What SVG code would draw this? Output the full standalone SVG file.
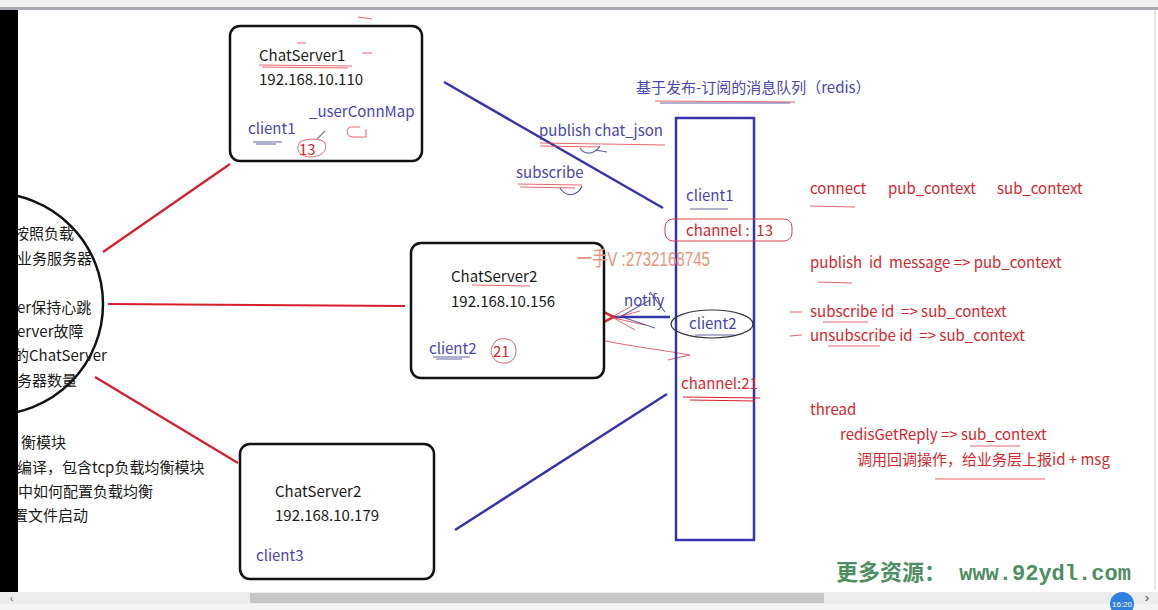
<svg xmlns="http://www.w3.org/2000/svg" width="1158" height="610" viewBox="0 0 1158 610">
<defs>
<style>
.t{font-family:"Noto Sans CJK SC","Noto Sans",sans-serif;font-size:15px;fill:#111;white-space:pre}
.k{fill:#1a1a1a}
.b{fill:#4646b4}
.r{fill:#d8262e}
.box{fill:#fff;stroke:#111;stroke-width:2.5}
.bl{stroke:#3434b0;stroke-width:2.5;fill:none}
.rl{stroke:#d81e2e;stroke-width:2.2;fill:none}
.hr{stroke:#e0404a;stroke-width:1;fill:none;opacity:.8}
.hb{stroke:#3a3a90;stroke-width:1.2;fill:none;opacity:.8}
.sm{font-family:"Liberation Sans",sans-serif}
</style>
<marker id="ah" viewBox="0 0 10 10" refX="1" refY="5" markerWidth="7" markerHeight="7" orient="auto">
<path d="M10 0 L0 5 L10 10" fill="none" stroke="#d8262e" stroke-width="1.5"/>
</marker>
</defs>
<rect width="1158" height="610" fill="#fff"/>
<!-- top toolbar -->
<rect x="0" y="0" width="1158" height="7" fill="#f0f0f0"/>
<rect x="0" y="7" width="1158" height="3" fill="#a8acb0"/>
<line x1="1155" y1="10" x2="1155" y2="590" stroke="#d0d0d0"/>

<!-- connectors -->
<g id="connectors">
<line class="rl" x1="103" y1="252" x2="230" y2="164"/>
<line class="rl" x1="108" y1="304" x2="405" y2="306"/>
<line class="rl" x1="95" y1="377" x2="238" y2="463"/>
<line class="bl" x1="444" y1="82" x2="663" y2="208"/>
<line class="bl" x1="455" y1="530" x2="667" y2="394"/>
<line stroke="#3434b0" stroke-width="2.5" x1="670" y1="317" x2="612" y2="317" marker-end="url(#ah)"/>
<path class="hr" d="M612 317 L632 306 M612 317 L635 330 M614 318 L640 311 M614 318 L645 325"/>
<path class="hb" d="M620 317 L650 300 M625 318 L655 328 M650 292 L665 312"/>
<path class="hr" d="M593 338 C620 345 650 348 690 355 L668 360"/>
</g>

<!-- left circle -->
<g id="lb">
<circle cx="-8" cy="304" r="111" fill="none" stroke="#111" stroke-width="2.5"/>
<text class="t k" x="14" y="239">按照负载</text>
<text class="t k" x="17" y="264">业务服务器</text>
<text class="t k" x="17" y="313">er保持心跳</text>
<text class="t k" x="17" y="337">erver故障</text>
<text class="t k" x="14" y="361">的ChatServer</text>
<text class="t k" x="17" y="386">务器数量</text>
<text class="t k" x="21" y="448">衡模块</text>
<text class="t k" x="17" y="473">编译，包含tcp负载均衡模块</text>
<text class="t k" x="18" y="497">中如何配置负载均衡</text>
<text class="t k" x="13" y="521">置文件启动</text>
</g>
<rect x="0" y="10" width="18" height="582" fill="#000"/>

<!-- ChatServer1 -->
<g id="cs1">
<rect class="box" x="230" y="26" width="192" height="135" rx="10"/>
<text class="t k" x="259" y="61" font-size="16">ChatServer1</text>
<text class="t k" x="259" y="85" font-size="16">192.168.10.110</text>
<text class="t b" x="309" y="117" font-size="16">_userConnMap</text>
<text class="t b" x="248" y="134" font-size="16">client1</text>
<text class="t r" x="299" y="155" font-size="16">13</text>
<path class="hr" d="M300 142 C296 148 297 156 310 157 C322 157 328 150 325 143 C322 138 305 138 300 142"/>
<path class="hr" d="M259 65 L352 66 M262 67 L348 68 M297 43 L306 43 M362 53 L372 53 M358 17 L372 19"/>
<path class="hr" d="M360 127 L350 127 C346 129 346 136 352 137 L366 137 L366 129"/>
<path class="hb" d="M253 142 L282 142 M256 144 L276 144"/>
<path d="M317 139 L325 131" stroke="#888" stroke-width="1.5"/>
</g>

<!-- ChatServer2 middle -->
<g id="cs2">
<rect class="box" x="411" y="243" width="193" height="135" rx="10"/>
<text class="t k" x="451" y="282" font-size="16">ChatServer2</text>
<text class="t k" x="451" y="307" font-size="16">192.168.10.156</text>
<text class="t b" x="429" y="354" font-size="16">client2</text>
<text class="t r" x="493" y="357" font-size="16">21</text>
<path class="hr" d="M496 341 C488 348 490 362 503 363 C514 364 518 354 515 345 C512 338 500 337 496 341"/>
<path class="hr" d="M472 285 L530 286"/>
<path class="hb" d="M433 357 L470 357 M436 359 L462 359"/>
</g>

<!-- ChatServer2 bottom -->
<g id="cs3">
<rect class="box" x="240" y="444" width="194" height="135" rx="10"/>
<text class="t k" x="275" y="497" font-size="16">ChatServer2</text>
<text class="t k" x="275" y="521" font-size="16">192.168.10.179</text>
<text class="t b" x="256" y="561" font-size="16">client3</text>
</g>

<!-- redis queue -->
<g id="redis">
<rect x="676" y="118" width="78" height="422" fill="none" stroke="#3434b0" stroke-width="2.5"/>
<text class="t b" x="636" y="93" font-size="15">基于发布-订阅的消息队列（redis）</text>
<path class="hr" d="M655 101 L795 102"/>
<path class="hb" d="M660 103 L790 103"/>
<text class="t b" x="686" y="201" font-size="15">client1</text>
<path class="hb" d="M690 209 L728 209"/>
<rect x="665" y="219" width="127" height="22" rx="8" fill="none" stroke="#e04050" stroke-width="1"/>
<text class="t r" x="686" y="236" font-size="15.5">channel :  13</text>
<ellipse cx="712" cy="324" rx="41" ry="14" fill="none" stroke="#333" stroke-width="1.2"/>
<text class="t b" x="689" y="329" font-size="15">client2</text>
<path class="hb" d="M695 335 L735 335"/>
<text class="t r" x="681" y="389" font-size="15">channel:21</text>
<path d="M683 397 L760 398 M690 400 L755 401" stroke="#d81e2e" stroke-width="1.2" fill="none"/>
</g>

<!-- labels -->
<g id="labels">
<text class="t b" x="539" y="136" font-size="15">publish chat_json</text>
<path class="hr" d="M540 143 L665 145 M540 146 L600 147"/>
<path class="hb" d="M580 148 C585 156 595 154 600 146 M595 150 L607 152"/>
<text class="t b" x="516" y="178" font-size="15">subscribe</text>
<path class="hr" d="M518 184 L582 185 M520 187 L575 188"/>
<path class="hb" d="M560 188 C566 198 578 196 582 186"/>
<text class="t b" x="624" y="306" font-size="15">notify</text>
<text x="577" y="266" font-family="Liberation Sans Narrow, Liberation Sans, Noto Sans CJK SC, sans-serif" font-size="20" fill="#e8947a" textLength="133" lengthAdjust="spacingAndGlyphs">一手V :2732168745</text>
</g>

<!-- right notes -->
<g id="notes">
<text class="t r" x="810" y="194" font-size="15">connect</text>
<text class="t r" x="888" y="194" font-size="15">pub_context</text>
<text class="t r" x="997" y="194" font-size="15">sub_context</text>
<path class="hr" d="M810 206 L855 207"/>
<text class="t r" x="810" y="268" font-size="15.5">publish  id  message =&gt; pub_context</text>
<path class="hr" d="M818 282 L852 283"/>
<path class="hr" d="M790 312 L802 312 M790 336 L802 335"/>
<text class="t r" x="810" y="317" font-size="15.5">subscribe id  =&gt; sub_context</text>
<text class="t r" x="810" y="341" font-size="15.5">unsubscribe id  =&gt; sub_context</text>
<path class="hr" d="M823 322 L868 322 M828 346 L880 346"/>
<text class="t r" x="810" y="415" font-size="15.5">thread</text>
<text class="t r" x="840" y="440" font-size="15.5">redisGetReply =&gt; sub_context</text>
<path class="hr" d="M970 446 L1020 446"/>
<text class="t r" x="857" y="465" font-size="15">调用回调操作，给业务层上报id + msg</text>
<path class="hr" d="M935 479 L1045 479"/>
</g>

<!-- watermark -->
<text x="836" y="580" font-family="Liberation Mono, Noto Sans CJK SC, monospace" font-size="22" font-weight="bold" fill="#4e8e62">更多资源： www.92ydl.com</text>

<!-- bottom bars -->
<rect x="0" y="592" width="1158" height="12" fill="#ececec"/>
<rect x="250" y="593" width="574" height="10" fill="#c6c6c6"/>
<rect x="0" y="604" width="1158" height="6" fill="#f4f4f4"/>
<text class="sm" x="10" y="602" font-size="10" fill="#666">‹</text>
<text class="sm" x="1145" y="602" font-size="12" fill="#444">›</text>
<circle cx="1122" cy="604" r="12" fill="#2f7fe0"/>
<text class="sm" x="1122" y="607" text-anchor="middle" font-size="8" fill="#fff">16:20</text>
</svg>
